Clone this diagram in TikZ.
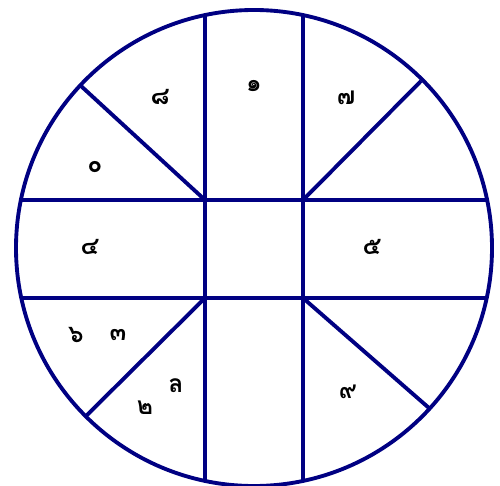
\documentclass[tikz,border=0pt]{standalone}
\usepackage{fontspec}
\newfontfamily\thaifont[Script=Thai]{Loma}
\definecolor{ringblue}{RGB}{0,0,130}
\begin{document}
\begin{tikzpicture}[x=0.02cm,y=-0.02cm,
  rule/.style={draw=ringblue,line width=2.2pt},
  lbl/.style={font=\thaifont\bfseries\fontsize{14}{16}\selectfont,text=black,inner sep=0pt}]
\useasboundingbox (0,0) rectangle (500,486);
\coordinate (c) at (254,248);
\draw[rule] (c) circle [radius=238];
% inner square corners
\coordinate (tl) at (205,200);
\coordinate (tr) at (303,200);
\coordinate (bl) at (205,298);
\coordinate (br) at (303,298);
% circle end points
\coordinate (vlt) at (205,15);
\coordinate (vlb) at (205,481);
\coordinate (vrt) at (303,15);
\coordinate (vrb) at (303,481);
\coordinate (hlt) at (21,200);
\coordinate (hrt) at (487,200);
\coordinate (hlb) at (21,298);
\coordinate (hrb) at (487,298);
\coordinate (dtl) at (81,86);
\coordinate (dtr) at (421,81);
\coordinate (dbl) at (86,416);
\coordinate (dbr) at (429,408);
\draw[rule] (vlt) -- (vlb);
\draw[rule] (vrt) -- (vrb);
\draw[rule] (hlt) -- (hrt);
\draw[rule] (hlb) -- (hrb);
\draw[rule] (tl) -- (dtl);
\draw[rule] (tr) -- (dtr);
\draw[rule] (bl) -- (dbl);
\draw[rule] (br) -- (dbr);
% labels
\node[lbl] (n8) at (160,97) {๘};
\node[lbl] (n1) at (254,86) {๑};
\node[lbl] (n7) at (346,98) {๗};
\node[lbl] (n0) at (95,167) {๐};
\node[lbl] (n4) at (90,247) {๔};
\node[lbl] (n5) at (372,247) {๕};
\node[lbl] (n6) at (76,335) {๖};
\node[lbl] (n3) at (118,335) {๓};
\node[lbl] (nl) at (176,386) {ล};
\node[lbl] (n2) at (145,408) {๒};
\node[lbl] (n9) at (348,392) {๙};
\end{tikzpicture}
\end{document}
